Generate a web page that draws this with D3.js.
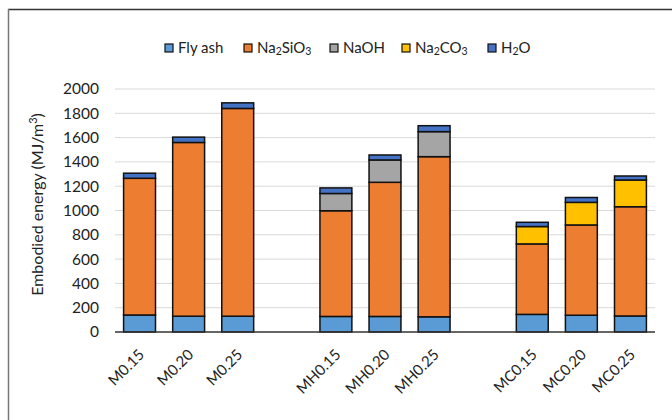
<!DOCTYPE html>
<html>
<head>
<meta charset="utf-8">
<script src="https://cdn.jsdelivr.net/npm/d3@7"></script>
<style>
  body { margin: 0; background: #fff; }
  svg { font-family: Lato, "Open Sans", sans-serif; }
</style>
</head>
<body>
<svg id="chart" width="672" height="420"></svg>
<script>
// data
var categories = ['M0.15', 'M0.20', 'M0.25', 'MH0.15', 'MH0.20', 'MH0.25', 'MC0.15', 'MC0.20', 'MC0.25'];
var flyAsh  = [140, 130, 130, 128, 128, 125, 145, 138, 132];
var na2sio3 = [1125, 1430, 1710, 870, 1104, 1318, 580, 743, 899];
var naoh    = [0, 0, 0, 142, 184, 206, 0, 0, 0];
var na2co3  = [0, 0, 0, 0, 0, 0, 143, 186, 220];
var h2o     = [42, 44, 46, 46, 41, 49, 35, 40, 33];
var yTicks  = [0, 200, 400, 600, 800, 1000, 1200, 1400, 1600, 1800, 2000];

var series = [
  { key: 'flyAsh',  label: ['Fly ash'],              color: '#5B9BD5', values: flyAsh },
  { key: 'na2sio3', label: ['Na', '2', 'SiO', '3'],  color: '#ED7D31', values: na2sio3 },
  { key: 'naoh',    label: ['NaOH'],                 color: '#A5A5A5', values: naoh },
  { key: 'na2co3',  label: ['Na', '2', 'CO', '3'],   color: '#FFC000', values: na2co3 },
  { key: 'h2o',     label: ['H', '2', 'O'],          color: '#4472C4', values: h2o }
];

var rows = categories.map(function (c, i) {
  var r = { cat: c };
  series.forEach(function (s) { r[s.key] = s.values[i]; });
  return r;
});

// slots: three groups with an empty slot between them
var slots = [];
categories.forEach(function (c, i) {
  if (i === 3 || i === 6) slots.push('gap' + i);
  slots.push(c);
});

var svg = d3.select('#chart');
var margin = { left: 115, right: 17, top: 89, bottom: 88 };
var width = 672 - margin.left - margin.right,
  height = 420 - margin.top - margin.bottom;

// frame lines
svg.append('line').attr('x1', 8).attr('x2', 672).attr('y1', 9.5).attr('y2', 9.5)
  .attr('stroke', '#333').attr('stroke-width', 1.5);
svg.append('line').attr('x1', 8.5).attr('x2', 8.5).attr('y1', 9).attr('y2', 420)
  .attr('stroke', '#777').attr('stroke-width', 1.5);

var g = svg.append('g').attr('transform', 'translate(' + margin.left + ',' + margin.top + ')');

var x = d3.scaleBand().domain(slots).range([0, width]).paddingInner(0.35).paddingOuter(0.175);
var y = d3.scaleLinear().domain([0, 2000]).range([height, 0]);

// grid
g.selectAll('.grid').data(yTicks.slice(1)).enter().append('line')
  .attr('x1', 0).attr('x2', width)
  .attr('y1', function (d) { return y(d); }).attr('y2', function (d) { return y(d); })
  .attr('stroke', '#d9d9d9').attr('stroke-width', 1);

// y tick labels
g.selectAll('.ytick').data(yTicks).enter().append('text')
  .attr('x', -16).attr('y', function (d) { return y(d); })
  .attr('dy', '0.35em').attr('text-anchor', 'end')
  .style('font-size', '15.5px').attr('fill', '#222')
  .text(function (d) { return d; });

// stacked bars
var stack = d3.stack().keys(series.map(function (s) { return s.key; }));
var layers = stack(rows);

g.selectAll('.layer').data(layers).enter().append('g')
  .attr('fill', function (d, i) { return series[i].color; })
  .selectAll('rect').data(function (d) { return d.filter(function (p) { return p[1] - p[0] > 0; }); })
  .enter().append('rect')
  .attr('x', function (d) { return x(d.data.cat); })
  .attr('width', x.bandwidth())
  .attr('y', function (d) { return y(d[1]); })
  .attr('height', function (d) { return y(d[0]) - y(d[1]); })
  .attr('stroke', '#111').attr('stroke-width', 1.5);

// x axis line
g.append('line').attr('x1', 0).attr('x2', width).attr('y1', height).attr('y2', height)
  .attr('stroke', '#333').attr('stroke-width', 1.5);

// x labels
g.selectAll('.xlab').data(categories).enter().append('text')
  .attr('transform', function (d) {
    return 'translate(' + (x(d) + x.bandwidth() / 2 + 2) + ',' + (height + 20) + ') rotate(-45)';
  })
  .attr('text-anchor', 'end').attr('dy', '0.35em')
  .style('font-size', '15px').attr('fill', '#222')
  .text(function (d) { return d; });

// y title
svg.append('text')
  .attr('transform', 'translate(43,' + (margin.top + height / 2 - 6) + ') rotate(-90)')
  .attr('text-anchor', 'middle')
  .style('font-size', '16px').attr('fill', '#222')
  .call(function (t) {
    t.append('tspan').text('Embodied energy (MJ/m');
    t.append('tspan').attr('baseline-shift', 'super').style('font-size', '11px').text('3');
    t.append('tspan').text(')');
  });

// legend
var legendX = [165, 244, 330, 402, 488];
var leg = svg.selectAll('.leg').data(series).enter().append('g')
  .attr('transform', function (d, i) { return 'translate(' + legendX[i] + ',48)'; });
leg.append('rect').attr('x', 0).attr('y', -4).attr('width', 8).attr('height', 8)
  .attr('fill', function (d) { return d.color; })
  .attr('stroke', '#111').attr('stroke-width', 1.2);
leg.append('text').attr('x', 13).attr('y', 0).attr('dy', '0.35em')
  .style('font-size', '15px').attr('fill', '#222')
  .each(function (d) {
    var t = d3.select(this);
    d.label.forEach(function (part, j) {
      var ts = t.append('tspan').text(part);
      if (j % 2 === 1) ts.attr('baseline-shift', '-1.5').style('font-size', '10.5px');
    });
  });
</script>
</body>
</html>
